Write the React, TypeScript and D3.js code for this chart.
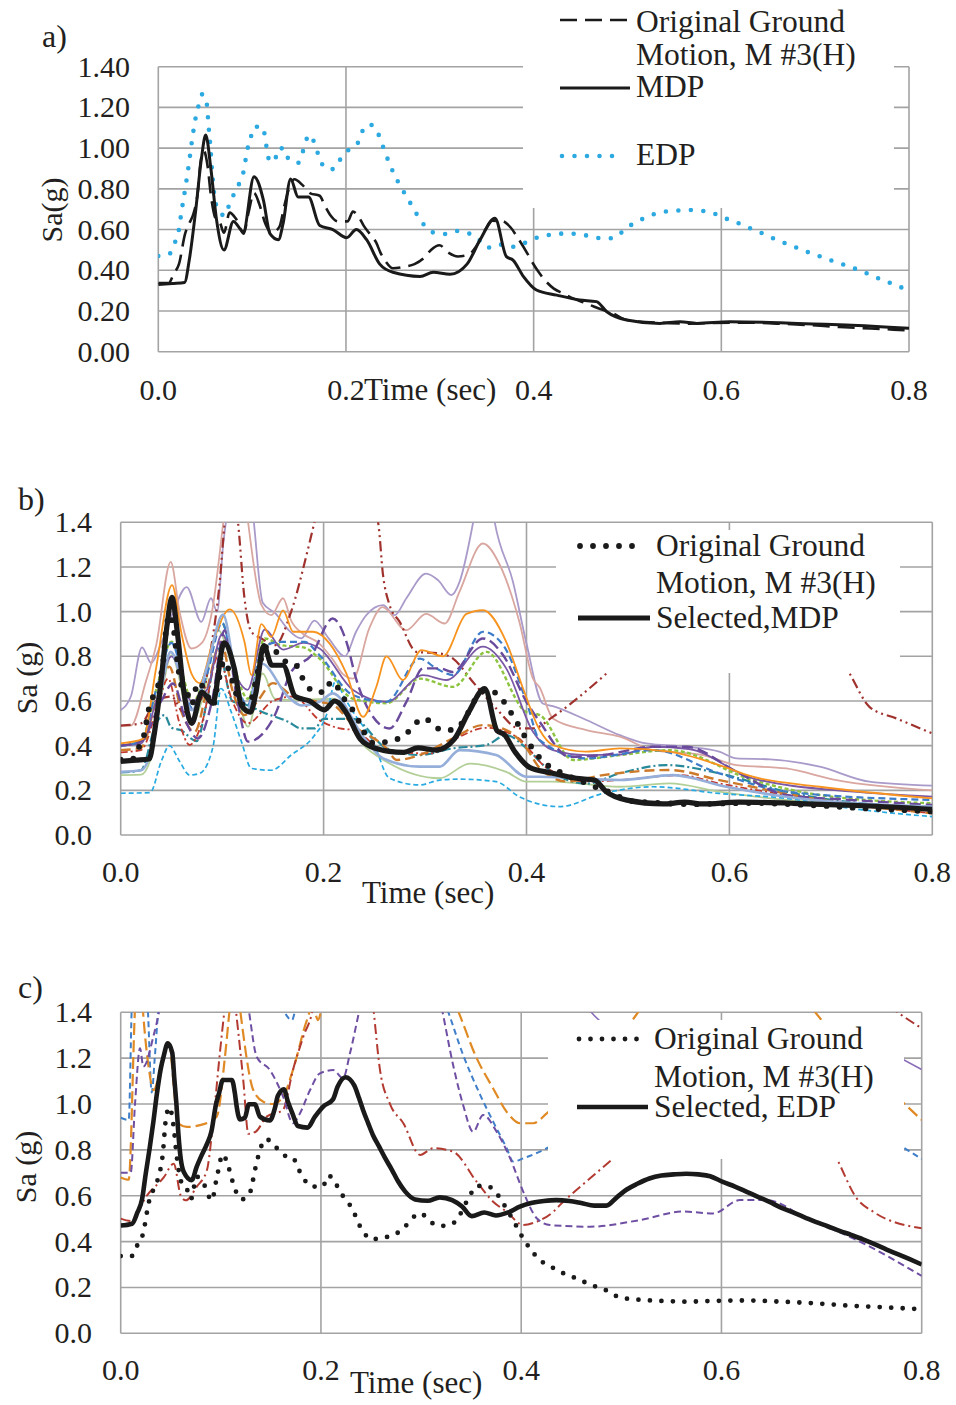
import React from 'react';
import * as d3 from 'd3';

type Pt = [number, number];

const TIME_TICKS = [0, 0.2, 0.4, 0.6, 0.8];
const SA_TICKS = [0, 0.2, 0.4, 0.6, 0.8, 1.0, 1.2, 1.4];

const ORIGINAL: Pt[] = [[0,0.337],[0.011,0.337],[0.0166,0.384],[0.022,0.43],[0.0286,0.58],[0.033,0.63],[0.0376,0.68],[0.042,0.78],[0.045,0.93],[0.0486,0.986],[0.0526,0.91],[0.056,0.77],[0.061,0.654],[0.066,0.63],[0.070,0.584],[0.076,0.683],[0.0826,0.654],[0.091,0.58],[0.096,0.68],[0.102,0.78],[0.1075,0.727],[0.114,0.63],[0.121,0.584],[0.129,0.613],[0.134,0.71],[0.137,0.766],[0.145,0.847],[0.154,0.817],[0.162,0.778],[0.172,0.766],[0.1775,0.717],[0.183,0.673],[0.1918,0.64],[0.2017,0.64],[0.2074,0.688],[0.2134,0.664],[0.219,0.618],[0.2257,0.577],[0.232,0.538],[0.2367,0.487],[0.2424,0.443],[0.25,0.41],[0.2617,0.417],[0.273,0.43],[0.283,0.46],[0.2906,0.50],[0.2996,0.523],[0.309,0.487],[0.319,0.468],[0.331,0.477],[0.338,0.512],[0.349,0.603],[0.3556,0.643],[0.366,0.642],[0.3755,0.61],[0.382,0.567],[0.394,0.477],[0.3995,0.432],[0.4055,0.39],[0.413,0.346],[0.4215,0.31],[0.4315,0.286],[0.442,0.262],[0.453,0.243],[0.464,0.222],[0.475,0.203],[0.4855,0.186],[0.4962,0.16],[0.507,0.15],[0.519,0.146],[0.542,0.141],[0.566,0.138],[0.589,0.141],[0.626,0.143],[0.659,0.138],[0.6925,0.131],[0.726,0.121],[0.759,0.114],[0.8,0.105]];

const MDP: Pt[] = [[0,0.33],[0.015,0.335],[0.028,0.34],[0.033,0.45],[0.04,0.70],[0.046,0.95],[0.0505,1.064],[0.056,0.9],[0.062,0.65],[0.07,0.50],[0.08,0.64],[0.0906,0.59],[0.102,0.86],[0.112,0.745],[0.119,0.58],[0.128,0.55],[0.133,0.63],[0.141,0.848],[0.149,0.76],[0.16,0.76],[0.172,0.62],[0.186,0.60],[0.2007,0.56],[0.211,0.60],[0.222,0.55],[0.236,0.43],[0.25,0.39],[0.279,0.37],[0.293,0.39],[0.311,0.38],[0.329,0.43],[0.343,0.55],[0.3588,0.655],[0.371,0.467],[0.378,0.45],[0.389,0.37],[0.403,0.303],[0.4246,0.278],[0.449,0.254],[0.467,0.246],[0.478,0.196],[0.499,0.156],[0.5346,0.139],[0.556,0.147],[0.574,0.139],[0.609,0.147],[0.6625,0.142],[0.698,0.136],[0.733,0.131],[0.8,0.115]];

const EDP: Pt[] = [[0,0.47],[0.0114,0.478],[0.0167,0.527],[0.0213,0.584],[0.025,0.696],[0.029,0.81],[0.0327,0.925],[0.036,1.04],[0.040,1.154],[0.043,1.21],[0.047,1.265],[0.0515,1.223],[0.0536,1.108],[0.0558,0.99],[0.0575,0.876],[0.06,0.76],[0.063,0.704],[0.071,0.668],[0.0757,0.724],[0.081,0.778],[0.0863,0.827],[0.0906,0.88],[0.095,0.995],[0.0984,1.05],[0.102,1.105],[0.111,1.105],[0.114,1.048],[0.1158,0.99],[0.119,0.933],[0.124,0.94],[0.128,0.999],[0.134,0.999],[0.139,0.945],[0.149,0.928],[0.154,0.982],[0.157,1.036],[0.163,1.064],[0.167,1.01],[0.1716,0.958],[0.177,0.904],[0.1865,0.897],[0.194,0.945],[0.2025,0.99],[0.212,1.02],[0.2167,1.076],[0.2245,1.117],[0.2334,1.08],[0.238,1.026],[0.2423,0.971],[0.247,0.918],[0.252,0.864],[0.258,0.815],[0.264,0.765],[0.271,0.712],[0.277,0.663],[0.284,0.619],[0.294,0.584],[0.3066,0.578],[0.3187,0.593],[0.331,0.581],[0.341,0.553],[0.3506,0.511],[0.363,0.527],[0.3748,0.514],[0.387,0.527],[0.3986,0.552],[0.41,0.568],[0.4227,0.577],[0.435,0.581],[0.448,0.577],[0.46,0.568],[0.473,0.557],[0.485,0.557],[0.4955,0.593],[0.505,0.626],[0.516,0.652],[0.528,0.675],[0.54,0.688],[0.5524,0.693],[0.5648,0.696],[0.577,0.693],[0.5887,0.685],[0.6014,0.66],[0.6135,0.64],[0.6253,0.617],[0.637,0.594],[0.648,0.573],[0.6594,0.548],[0.6714,0.527],[0.683,0.506],[0.694,0.486],[0.706,0.467],[0.718,0.447],[0.7296,0.429],[0.7413,0.41],[0.7534,0.388],[0.765,0.365],[0.7766,0.344],[0.788,0.323],[0.8,0.30]];

// Panel b: other MDP-selected motions
const B_LAVENDER: Pt[] = [[0,0.56],[0.01,0.62],[0.021,0.84],[0.03,0.77],[0.04,0.86],[0.051,0.99],[0.065,1.11],[0.0795,0.954],[0.089,1.06],[0.095,1.0],[0.101,1.3],[0.107,1.5],[0.12,1.7],[0.13,1.45],[0.14,1.04],[0.153,0.99],[0.165,0.92],[0.178,0.88],[0.191,0.96],[0.205,0.88],[0.221,0.80],[0.232,0.91],[0.242,0.984],[0.2586,1.029],[0.27,0.984],[0.2816,1.06],[0.301,1.17],[0.313,1.14],[0.326,1.074],[0.334,1.133],[0.347,1.39],[0.355,1.6],[0.365,1.5],[0.3687,1.4],[0.3867,1.133],[0.40,0.857],[0.416,0.589],[0.426,0.577],[0.459,0.515],[0.492,0.447],[0.518,0.41],[0.5576,0.395],[0.59,0.373],[0.607,0.343],[0.64,0.339],[0.689,0.306],[0.738,0.239],[0.8,0.221]];
const B_PINK: Pt[] = [[0,0.49],[0.01,0.49],[0.025,0.69],[0.035,0.85],[0.0493,1.223],[0.058,1.0],[0.0697,0.835],[0.08,0.86],[0.09,1.0],[0.1025,1.45],[0.11,1.7],[0.12,1.6],[0.125,1.42],[0.1387,1.03],[0.1485,0.984],[0.16,1.06],[0.168,0.96],[0.18,0.90],[0.195,0.86],[0.21,0.78],[0.219,0.72],[0.229,0.70],[0.245,0.925],[0.258,1.02],[0.2816,0.917],[0.301,0.99],[0.3194,0.947],[0.334,1.09],[0.357,1.305],[0.3736,1.21],[0.393,0.954],[0.4064,0.70],[0.413,0.66],[0.426,0.522],[0.459,0.47],[0.492,0.44],[0.5247,0.38],[0.574,0.358],[0.607,0.313],[0.656,0.298],[0.7055,0.246],[0.8,0.20]];
const B_ORANGE: Pt[] = [[0,0.41],[0.022,0.43],[0.035,0.75],[0.0506,1.119],[0.06,0.9],[0.07,0.72],[0.078,0.68],[0.09,0.85],[0.1075,1.01],[0.122,0.865],[0.1288,0.716],[0.1387,0.944],[0.1485,0.887],[0.16,1.006],[0.17,0.91],[0.1896,0.91],[0.206,0.857],[0.2225,0.723],[0.2389,0.529],[0.252,0.664],[0.262,0.80],[0.278,0.694],[0.2964,0.828],[0.3177,0.80],[0.3408,0.99],[0.357,1.007],[0.38,0.865],[0.3966,0.656],[0.413,0.47],[0.426,0.403],[0.459,0.373],[0.492,0.388],[0.541,0.373],[0.59,0.313],[0.623,0.261],[0.689,0.216],[0.8,0.164]];
const B_GREEN: Pt[] = [[0,0.268],[0.02,0.27],[0.03,0.35],[0.04,0.62],[0.05,0.805],[0.0697,0.50],[0.08,0.6],[0.096,0.917],[0.11,0.75],[0.1255,0.485],[0.14,0.723],[0.152,0.61],[0.168,0.604],[0.209,0.61],[0.239,0.403],[0.262,0.328],[0.3145,0.254],[0.344,0.32],[0.38,0.283],[0.40,0.239],[0.426,0.239],[0.492,0.216],[0.541,0.231],[0.59,0.194],[0.656,0.157],[0.8,0.127]];
const B_STEEL: Pt[] = [[0,0.283],[0.02,0.29],[0.03,0.38],[0.04,0.65],[0.0493,0.82],[0.0703,0.559],[0.085,0.75],[0.1009,0.987],[0.112,0.75],[0.1239,0.552],[0.1387,0.768],[0.165,0.619],[0.178,0.58],[0.196,0.596],[0.209,0.634],[0.239,0.44],[0.2586,0.343],[0.2947,0.306],[0.3145,0.306],[0.334,0.38],[0.37,0.358],[0.40,0.261],[0.413,0.261],[0.492,0.246],[0.5444,0.268],[0.597,0.216],[0.656,0.171],[0.8,0.127]];
const B_BLUE_DASH: Pt[] = [[0,0.40],[0.02,0.42],[0.035,0.65],[0.05,0.86],[0.0703,0.57],[0.085,0.72],[0.1,0.95],[0.112,0.72],[0.125,0.58],[0.14,0.84],[0.158,0.865],[0.181,0.865],[0.196,0.805],[0.229,0.626],[0.262,0.596],[0.2947,0.79],[0.311,0.746],[0.3276,0.716],[0.357,0.91],[0.377,0.85],[0.40,0.596],[0.413,0.425],[0.459,0.343],[0.525,0.38],[0.59,0.276],[0.656,0.194],[0.8,0.157]];
const B_PURPLE_DASH: Pt[] = [[0,0.40],[0.02,0.42],[0.04,0.60],[0.0516,0.678],[0.065,0.5],[0.076,0.432],[0.09,0.6],[0.1025,0.917],[0.115,0.6],[0.1255,0.418],[0.152,0.537],[0.168,0.73],[0.188,0.805],[0.209,0.969],[0.2225,0.865],[0.232,0.70],[0.2454,0.552],[0.265,0.477],[0.2816,0.596],[0.298,0.746],[0.3145,0.746],[0.327,0.73],[0.357,0.88],[0.377,0.805],[0.40,0.596],[0.413,0.507],[0.4426,0.35],[0.4754,0.358],[0.5247,0.395],[0.5576,0.395],[0.607,0.283],[0.656,0.179],[0.72,0.157],[0.8,0.134]];
const B_GREEN_DASH: Pt[] = [[0,0.40],[0.02,0.42],[0.035,0.65],[0.05,0.865],[0.0713,0.596],[0.085,0.75],[0.0992,0.954],[0.112,0.75],[0.1255,0.61],[0.142,0.88],[0.158,0.85],[0.18,0.84],[0.196,0.79],[0.229,0.61],[0.262,0.59],[0.2947,0.70],[0.3276,0.663],[0.3605,0.82],[0.40,0.55],[0.413,0.537],[0.446,0.336],[0.492,0.358],[0.541,0.38],[0.623,0.246],[0.689,0.179],[0.8,0.142]];
const B_PURPLE: Pt[] = [[0,0.40],[0.02,0.41],[0.035,0.6],[0.05,0.8],[0.07,0.6],[0.085,0.65],[0.1,0.9],[0.115,0.7],[0.125,0.65],[0.142,0.92],[0.16,0.83],[0.18,0.86],[0.196,0.835],[0.229,0.649],[0.262,0.596],[0.298,0.716],[0.321,0.694],[0.357,0.843],[0.38,0.746],[0.4064,0.462],[0.426,0.38],[0.459,0.358],[0.492,0.36],[0.525,0.395],[0.56,0.385],[0.623,0.254],[0.722,0.194],[0.8,0.172]];
const B_SKY_DASH: Pt[] = [[0,0.187],[0.029,0.19],[0.04,0.33],[0.048,0.40],[0.058,0.33],[0.068,0.268],[0.078,0.276],[0.091,0.395],[0.099,0.656],[0.109,0.55],[0.119,0.418],[0.1288,0.298],[0.1485,0.29],[0.168,0.358],[0.19,0.44],[0.2028,0.537],[0.212,0.69],[0.22,0.62],[0.229,0.552],[0.2487,0.418],[0.265,0.254],[0.2947,0.224],[0.3145,0.246],[0.334,0.25],[0.37,0.239],[0.393,0.171],[0.4326,0.127],[0.4754,0.186],[0.5247,0.216],[0.59,0.186],[0.656,0.164],[0.72,0.119],[0.8,0.082]];
const B_BROWN_DASH: Pt[] = [[0,0.38],[0.02,0.39],[0.035,0.6],[0.048,0.753],[0.06,0.55],[0.073,0.462],[0.085,0.65],[0.099,0.865],[0.11,0.65],[0.122,0.537],[0.135,0.6],[0.15,0.68],[0.17,0.62],[0.19,0.6],[0.21,0.58],[0.229,0.492],[0.262,0.388],[0.272,0.336],[0.2947,0.358],[0.3276,0.433],[0.357,0.492],[0.38,0.47],[0.40,0.388],[0.413,0.30],[0.44,0.24],[0.4754,0.268],[0.541,0.291],[0.59,0.246],[0.7,0.15],[0.8,0.097]];
const B_TEAL_DASHDOT: Pt[] = [[0,0.28],[0.02,0.29],[0.035,0.5],[0.043,0.537],[0.05,0.48],[0.059,0.47],[0.075,0.42],[0.085,0.6],[0.096,0.835],[0.11,0.6],[0.1255,0.58],[0.14,0.55],[0.165,0.507],[0.178,0.477],[0.191,0.477],[0.2,0.52],[0.229,0.52],[0.262,0.388],[0.2947,0.358],[0.3276,0.388],[0.3605,0.403],[0.38,0.447],[0.40,0.388],[0.42,0.3],[0.459,0.23],[0.492,0.276],[0.538,0.313],[0.59,0.276],[0.656,0.194],[0.8,0.119]];
const B_DARKRED_DASHDOTDOT: Pt[] = [[0,0.49],[0.02,0.5],[0.035,0.6],[0.05,0.62],[0.062,0.55],[0.0795,0.61],[0.089,0.835],[0.0976,1.133],[0.1025,1.4],[0.108,1.6],[0.1156,1.4],[0.122,1.06],[0.1288,0.91],[0.1387,0.88],[0.152,0.85],[0.168,1.0],[0.1846,1.28],[0.191,1.4],[0.22,1.8],[0.2537,1.4],[0.2586,1.163],[0.265,1.03],[0.275,0.954],[0.2915,0.82],[0.3145,0.813],[0.3276,0.79],[0.347,0.686],[0.37,0.567],[0.393,0.477],[0.4064,0.477],[0.426,0.529],[0.452,0.619],[0.4788,0.723],[0.53,0.95],[0.58,1.15],[0.63,1.2],[0.68,1.0],[0.7185,0.723],[0.738,0.574],[0.7646,0.522],[0.8,0.455]];
const B_RED_DASHDOT: Pt[] = [[0,0.37],[0.02,0.38],[0.035,0.55],[0.0467,0.70],[0.058,0.5],[0.068,0.403],[0.08,0.5],[0.096,0.8],[0.11,0.6],[0.125,0.5],[0.15,0.6],[0.17,0.62],[0.196,0.514],[0.216,0.477],[0.229,0.47],[0.26,0.38],[0.3046,0.365],[0.334,0.44],[0.36,0.48],[0.39,0.44],[0.42,0.3],[0.46,0.24],[0.492,0.246],[0.551,0.268],[0.59,0.231],[0.7,0.15],[0.8,0.097]];

// Panel c: other EDP-selected motions
const C_BLUE_DASH: Pt[] = [[0,0.94],[0.008,0.93],[0.011,1.42],[0.016,1.8],[0.023,1.6],[0.027,1.42],[0.031,1.05],[0.034,1.2],[0.0376,1.42],[0.05,1.9],[0.12,2.0],[0.161,1.42],[0.171,1.366],[0.175,1.42],[0.25,2.0],[0.3256,1.42],[0.342,1.214],[0.359,1.04],[0.372,0.923],[0.3855,0.807],[0.392,0.749],[0.402,0.763],[0.4255,0.807],[0.46,0.9],[0.5,1.05],[0.55,1.2],[0.6,1.25],[0.65,1.2],[0.7,1.05],[0.75,0.9],[0.8,0.76]];
const C_ORANGE_DASH: Pt[] = [[0,0.68],[0.008,0.67],[0.0143,1.42],[0.018,1.7],[0.022,1.42],[0.0276,1.17],[0.033,1.06],[0.038,1.12],[0.0476,1.27],[0.0576,0.916],[0.066,0.90],[0.0792,0.908],[0.0959,0.945],[0.104,1.2],[0.109,1.42],[0.114,1.6],[0.119,1.42],[0.1325,1.06],[0.1424,1.01],[0.152,1.0],[0.162,1.03],[0.172,1.148],[0.186,1.366],[0.191,1.42],[0.194,1.40],[0.197,1.366],[0.201,1.42],[0.25,1.9],[0.3356,1.42],[0.3555,1.2],[0.372,1.068],[0.3855,0.966],[0.399,0.916],[0.412,0.916],[0.4255,0.959],[0.46,1.1],[0.5,1.3],[0.52,1.42],[0.55,1.6],[0.65,1.65],[0.69,1.42],[0.70,1.366],[0.75,1.14],[0.8,0.93]];
const C_PURPLE_DASH: Pt[] = [[0,0.70],[0.01,0.70],[0.0143,1.0],[0.0193,1.243],[0.0226,1.163],[0.0326,1.294],[0.039,1.42],[0.05,1.8],[0.1,2.0],[0.1275,1.42],[0.1358,1.206],[0.149,1.148],[0.1624,1.03],[0.172,0.916],[0.179,0.959],[0.189,1.06],[0.199,1.134],[0.2123,1.148],[0.222,1.112],[0.229,1.221],[0.239,1.42],[0.28,2.0],[0.3205,1.42],[0.332,1.17],[0.342,0.996],[0.352,0.879],[0.362,0.952],[0.3755,0.879],[0.389,0.763],[0.402,0.618],[0.4155,0.502],[0.4288,0.472],[0.4688,0.465],[0.5187,0.494],[0.5619,0.531],[0.5918,0.523],[0.6185,0.581],[0.645,0.581],[0.685,0.502],[0.735,0.407],[0.8,0.25]];
const C_RED_DASHDOT: Pt[] = [[0,0.50],[0.01,0.49],[0.026,0.6],[0.043,0.68],[0.053,0.74],[0.06,0.6],[0.065,0.58],[0.076,0.64],[0.086,0.71],[0.0925,0.93],[0.099,1.22],[0.104,1.42],[0.11,1.6],[0.114,1.45],[0.1225,1.1],[0.1275,0.87],[0.135,0.88],[0.1458,0.945],[0.162,0.974],[0.172,1.148],[0.1824,1.294],[0.192,1.42],[0.2,1.7],[0.23,2.0],[0.245,1.7],[0.2523,1.42],[0.259,1.148],[0.269,1.0],[0.2823,0.916],[0.299,0.778],[0.312,0.807],[0.332,0.792],[0.3555,0.661],[0.372,0.574],[0.3855,0.53],[0.402,0.472],[0.4155,0.487],[0.432,0.53],[0.4388,0.56],[0.4688,0.676],[0.492,0.763],[0.55,1.0],[0.6,1.15],[0.65,1.1],[0.69,0.95],[0.715,0.763],[0.735,0.589],[0.7516,0.53],[0.8,0.458]];
const C_DARKRED_DASHDOTDOT: Pt[] = [[0.6,2.0],[0.7,1.7],[0.776,1.4],[0.8,1.33]];
const C_PURPLE: Pt[] = [[0.44,1.6],[0.47,1.4],[0.5,1.3],[0.55,1.25],[0.62,1.28],[0.68,1.3],[0.72,1.3],[0.76,1.24],[0.8,1.15]];

const FONT = "'Liberation Serif','Times New Roman',Times,serif";
const GRID = '#A3A3A3';
const INK = '#231F20';

interface Style { color: string; width: number; dash?: string; round?: boolean }
interface Series { data: Pt[]; style: Style }
interface LegendEntry { x1: number; x2: number; y: number; style: Style; texts: { t: string; x: number; y: number }[] }
interface PanelCfg {
  id: string;
  x: d3.ScaleLinear<number, number>;
  y: d3.ScaleLinear<number, number>;
  yFmt: (v: number) => string;
  yLabelX: number;
  xLabelY: number;
  series: Series[];
  box: { x: number; y: number; w: number; h: number };
  legend: LegendEntry[];
  tickFs: number;
}

const sLav: Style = { color: '#A99ACA', width: 1.8 };
const sPink: Style = { color: '#D9A6A0', width: 1.8 };
const sOrange: Style = { color: '#F7931E', width: 1.8 };
const sGreen: Style = { color: '#B3CF98', width: 1.8 };
const sSteel: Style = { color: '#95AEDA', width: 2.6 };
const sBlueD: Style = { color: '#3D7CC9', width: 2.2, dash: '7 4' };
const sPurpD: Style = { color: '#6A4A9C', width: 2.4, dash: '11 5' };
const sGreenD: Style = { color: '#8CC43F', width: 2.4, dash: '4 2.5' };
const sPurp: Style = { color: '#7A58A6', width: 1.8 };
const sSkyD: Style = { color: '#29ABE2', width: 1.7, dash: '5 3' };
const sBrownD: Style = { color: '#CD7A2A', width: 2.4, dash: '10 5' };
const sTealDD: Style = { color: '#27899A', width: 2.2, dash: '9 3 2 3' };
const sDarkRed: Style = { color: '#A0322E', width: 2.2, dash: '10 4 2 4 2 4' };
const sRedDD: Style = { color: '#C23A2E', width: 1.8, dash: '7 3 2 3' };

function PanelView({ cfg }: { cfg: PanelCfg }) {
  const { id, x, y } = cfg;
  const [x0, x1] = x.range();
  const [yb, yt] = y.range();
  const line = d3.line<Pt>().x(d => x(d[0])).y(d => y(d[1])).curve(d3.curveMonotoneX);
  const pathProps = (s: Style) => ({
    fill: 'none', stroke: s.color, strokeWidth: s.width,
    strokeDasharray: s.dash, strokeLinecap: (s.round ? 'round' : 'butt') as any, strokeLinejoin: 'round' as any,
  });
  return (
    <g>
      <defs>
        <clipPath id={id}><rect x={x0} y={yt} width={x1 - x0} height={yb - yt} /></clipPath>
      </defs>
      {SA_TICKS.map(v => (
        <line key={'h' + v} x1={x0} x2={x1} y1={y(v)} y2={y(v)} stroke={GRID} strokeWidth={1.6} />
      ))}
      {TIME_TICKS.map(t => (
        <line key={'v' + t} x1={x(t)} x2={x(t)} y1={yt} y2={yb} stroke={GRID} strokeWidth={1.6} />
      ))}
      <g clipPath={`url(#${id})`}>
        {cfg.series.map((s, i) => <path key={i} d={line(s.data) || ''} {...pathProps(s.style)} />)}
      </g>
      <rect x={cfg.box.x} y={cfg.box.y} width={cfg.box.w} height={cfg.box.h} fill="#fff" />
      {cfg.legend.map((e, i) => (
        <g key={'lg' + i}>
          <line x1={e.x1} x2={e.x2} y1={e.y} y2={e.y} {...pathProps(e.style)} />
          {e.texts.map((tx, j) => (
            <text key={j} x={tx.x} y={tx.y} fontFamily={FONT} fontSize={31.5} fill={INK}>{tx.t}</text>
          ))}
        </g>
      ))}
      {SA_TICKS.map(v => (
        <text key={'yl' + v} x={cfg.yLabelX} y={y(v) + 10} textAnchor="end" fontFamily={FONT} fontSize={cfg.tickFs} fill={INK}>{cfg.yFmt(v)}</text>
      ))}
      {TIME_TICKS.map(t => (
        <text key={'xl' + t} x={x(t)} y={cfg.xLabelY} textAnchor="middle" fontFamily={FONT} fontSize={30} fill={INK}>{d3.format('.1f')(t)}</text>
      ))}
    </g>
  );
}

export default function App() {
  const xA = d3.scaleLinear().domain([0, 0.8]).range([158.3, 909]);
  const yA = d3.scaleLinear().domain([0, 1.4]).range([351.7, 66.7]);
  const xB = d3.scaleLinear().domain([0, 0.8]).range([120.7, 932.3]);
  const yB = d3.scaleLinear().domain([0, 1.4]).range([835, 522.3]);
  const xC = d3.scaleLinear().domain([0, 0.8]).range([120.7, 921.7]);
  const yC = d3.scaleLinear().domain([0, 1.4]).range([1333.3, 1012.3]);

  const sOrigA: Style = { color: '#1A1A1A', width: 2.6, dash: '17 8' };
  const sMdpA: Style = { color: '#1A1A1A', width: 3 };
  const sEdpA: Style = { color: '#2BA9E0', width: 4.6, dash: '0 12.5', round: true };
  const sOrigB: Style = { color: '#1A1A1A', width: 5.8, dash: '0 13', round: true };
  const sMdpB: Style = { color: '#1A1A1A', width: 5.2 };
  const sOrigC: Style = { color: '#1A1A1A', width: 4.8, dash: '0 11.5', round: true };
  const sEdpC: Style = { color: '#1A1A1A', width: 4.6 };

  const panelA: PanelCfg = {
    id: 'clipA', x: xA, y: yA, yFmt: d3.format('.2f'), yLabelX: 130, xLabelY: 400, tickFs: 30,
    series: [
      { data: EDP, style: sEdpA },
      { data: ORIGINAL, style: sOrigA },
      { data: MDP, style: sMdpA },
    ],
    box: { x: 523, y: 0, w: 371, h: 208 },
    legend: [
      { x1: 560, x2: 627, y: 20, style: sOrigA, texts: [{ t: 'Original Ground', x: 636, y: 32 }, { t: 'Motion, M #3(H)', x: 636, y: 65 }] },
      { x1: 560, x2: 630, y: 88, style: sMdpA, texts: [{ t: 'MDP', x: 636, y: 97 }] },
      { x1: 562, x2: 624, y: 156, style: sEdpA, texts: [{ t: 'EDP', x: 636, y: 165 }] },
    ],
  };

  const panelB: PanelCfg = {
    id: 'clipB', x: xB, y: yB, yFmt: d3.format('.1f'), yLabelX: 92, xLabelY: 882, tickFs: 30,
    series: [
      { data: B_LAVENDER, style: sLav },
      { data: B_PINK, style: sPink },
      { data: B_GREEN, style: sGreen },
      { data: B_SKY_DASH, style: sSkyD },
      { data: B_TEAL_DASHDOT, style: sTealDD },
      { data: B_RED_DASHDOT, style: sRedDD },
      { data: B_BROWN_DASH, style: sBrownD },
      { data: B_DARKRED_DASHDOTDOT, style: sDarkRed },
      { data: B_GREEN_DASH, style: sGreenD },
      { data: B_PURPLE, style: sPurp },
      { data: B_BLUE_DASH, style: sBlueD },
      { data: B_PURPLE_DASH, style: sPurpD },
      { data: B_ORANGE, style: sOrange },
      { data: B_STEEL, style: sSteel },
      { data: ORIGINAL, style: sOrigB },
      { data: MDP, style: sMdpB },
    ],
    box: { x: 556, y: 530, w: 344, h: 143 },
    legend: [
      { x1: 580, x2: 643, y: 546, style: sOrigB, texts: [{ t: 'Original Ground', x: 656, y: 556 }, { t: 'Motion, M #3(H)', x: 656, y: 593 }] },
      { x1: 578, x2: 650, y: 618, style: sMdpB, texts: [{ t: 'Selected,MDP', x: 656, y: 628 }] },
    ],
  };

  const panelC: PanelCfg = {
    id: 'clipC', x: xC, y: yC, yFmt: d3.format('.1f'), yLabelX: 92, xLabelY: 1380, tickFs: 30,
    series: [
      { data: C_BLUE_DASH, style: { color: '#3F7FC9', width: 2, dash: '6 4' } },
      { data: C_ORANGE_DASH, style: { color: '#E08A25', width: 2.2, dash: '12 5' } },
      { data: C_PURPLE, style: { color: '#8A6DB8', width: 1.6 } },
      { data: C_DARKRED_DASHDOTDOT, style: { color: '#A8322E', width: 2, dash: '10 4 2 4 2 4' } },
      { data: C_RED_DASHDOT, style: { color: '#B23A30', width: 2, dash: '10 4 2 4' } },
      { data: C_PURPLE_DASH, style: { color: '#6F4FA3', width: 2, dash: '7 4' } },
      { data: ORIGINAL, style: sOrigC },
      { data: EDP, style: sEdpC },
    ],
    box: { x: 548, y: 1020, w: 356, h: 139 },
    legend: [
      { x1: 579, x2: 640, y: 1039, style: sOrigC, texts: [{ t: 'Original Ground', x: 654, y: 1049 }, { t: 'Motion, M #3(H)', x: 654, y: 1087 }] },
      { x1: 577, x2: 648, y: 1107, style: sEdpC, texts: [{ t: 'Selected, EDP', x: 654, y: 1117 }] },
    ],
  };

  return (
    <svg width={956} height={1405} style={{ position: 'absolute', left: 0, top: 0, background: '#fff' }}>
      <rect x={0} y={0} width={956} height={1405} fill="#fff" />
      <PanelView cfg={panelA} />
      <PanelView cfg={panelB} />
      <PanelView cfg={panelC} />

      <text x={42} y={47} fontFamily={FONT} fontSize={32} fill={INK}>a)</text>
      <text x={18} y={510} fontFamily={FONT} fontSize={32} fill={INK}>b)</text>
      <text x={18} y={998} fontFamily={FONT} fontSize={32} fill={INK}>c)</text>

      <text transform="translate(62,210) rotate(-90)" textAnchor="middle" fontFamily={FONT} fontSize={30} fill={INK}>Sa(g)</text>
      <text transform="translate(37,678) rotate(-90)" textAnchor="middle" fontFamily={FONT} fontSize={30} fill={INK}>Sa (g)</text>
      <text transform="translate(36,1167) rotate(-90)" textAnchor="middle" fontFamily={FONT} fontSize={30} fill={INK}>Sa (g)</text>

      <text x={364} y={400} fontFamily={FONT} fontSize={31} fill={INK}>Time (sec)</text>
      <text x={362} y={903} fontFamily={FONT} fontSize={31} fill={INK}>Time (sec)</text>
      <text x={350} y={1393} fontFamily={FONT} fontSize={31} fill={INK}>Time (sec)</text>
    </svg>
  );
}
